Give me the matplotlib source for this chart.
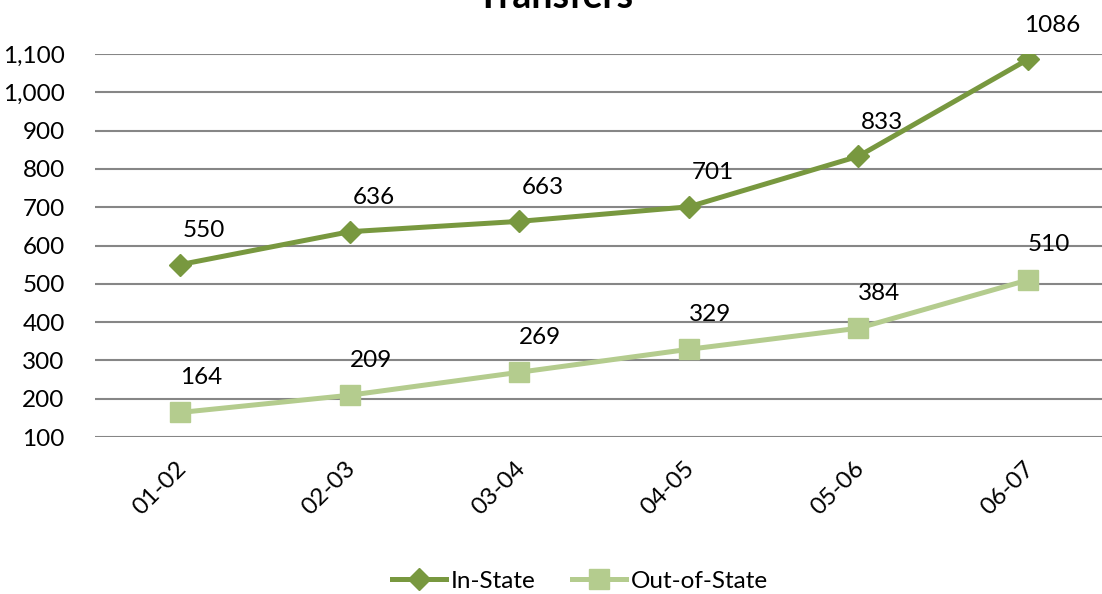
import matplotlib
matplotlib.use("Agg")
import matplotlib.pyplot as plt
from matplotlib.ticker import FuncFormatter, MultipleLocator
import matplotlib.transforms as mtransforms

categories = ["01-02", "02-03", "03-04", "04-05", "05-06", "06-07"]
in_state = [550, 636, 663, 701, 833, 1086]
out_of_state = [164, 209, 269, 329, 384, 510]

plt.rcParams['font.family'] = ['Lato', 'DejaVu Sans']

W, H = 1102, 594
fig = plt.figure(figsize=(W / 100, H / 100), dpi=100)
ax = fig.add_axes([95.2 / W, (H - 437) / H, 1017.6 / W, 383 / H])

c_in = '#78983F'
c_out = '#B4CC8E'
FS = 17.5

x = list(range(len(categories)))
ax.plot(x, in_state, color=c_in, lw=3.6, marker='D', ms=11, label='In-State', zorder=3)
ax.plot(x, out_of_state, color=c_out, lw=3.6, marker='s', ms=14, label='Out-of-State', zorder=3)

ax.set_xlim(-0.5, 5.5)
ax.set_ylim(100, 1100)
ax.yaxis.set_major_locator(MultipleLocator(100))
ax.yaxis.set_major_formatter(FuncFormatter(lambda v, p: f"{int(v):,}"))
ax.grid(axis='y', color='#868686', lw=1.5)
ax.set_axisbelow(True)
for s in ax.spines.values():
    s.set_visible(False)
ax.tick_params(axis='y', length=0, pad=22, labelsize=FS)
ax.tick_params(axis='x', length=0, labelsize=FS)

ax.set_xticks(x)
ax.set_xticklabels(categories, rotation=45, ha='right', va='top')
off = mtransforms.ScaledTranslation(10 / 100, -16 / 100, fig.dpi_scale_trans)
for lbl in ax.get_xticklabels():
    lbl.set_transform(lbl.get_transform() + off)

for xi, v in zip(x, in_state):
    ax.annotate(str(v), (xi, v), xytext=(24 * 0.72, 34 * 0.72), textcoords='offset points',
                ha='center', va='center', fontsize=FS)
for xi, v in zip(x, out_of_state):
    ax.annotate(str(v), (xi, v), xytext=(21 * 0.72, 35 * 0.72), textcoords='offset points',
                ha='center', va='center', fontsize=FS)

fig.text(555 / W, 1 - 8 / H, "Transfers", ha='center', va='baseline', fontsize=27, fontweight='bold')

fig.legend(loc='center', bbox_to_anchor=(580 / W, 1 - 581 / H), ncol=2, frameon=False,
           fontsize=FS, handlelength=2.2, handletextpad=0.2, columnspacing=1.5)

fig.savefig("out.png", dpi=100)
